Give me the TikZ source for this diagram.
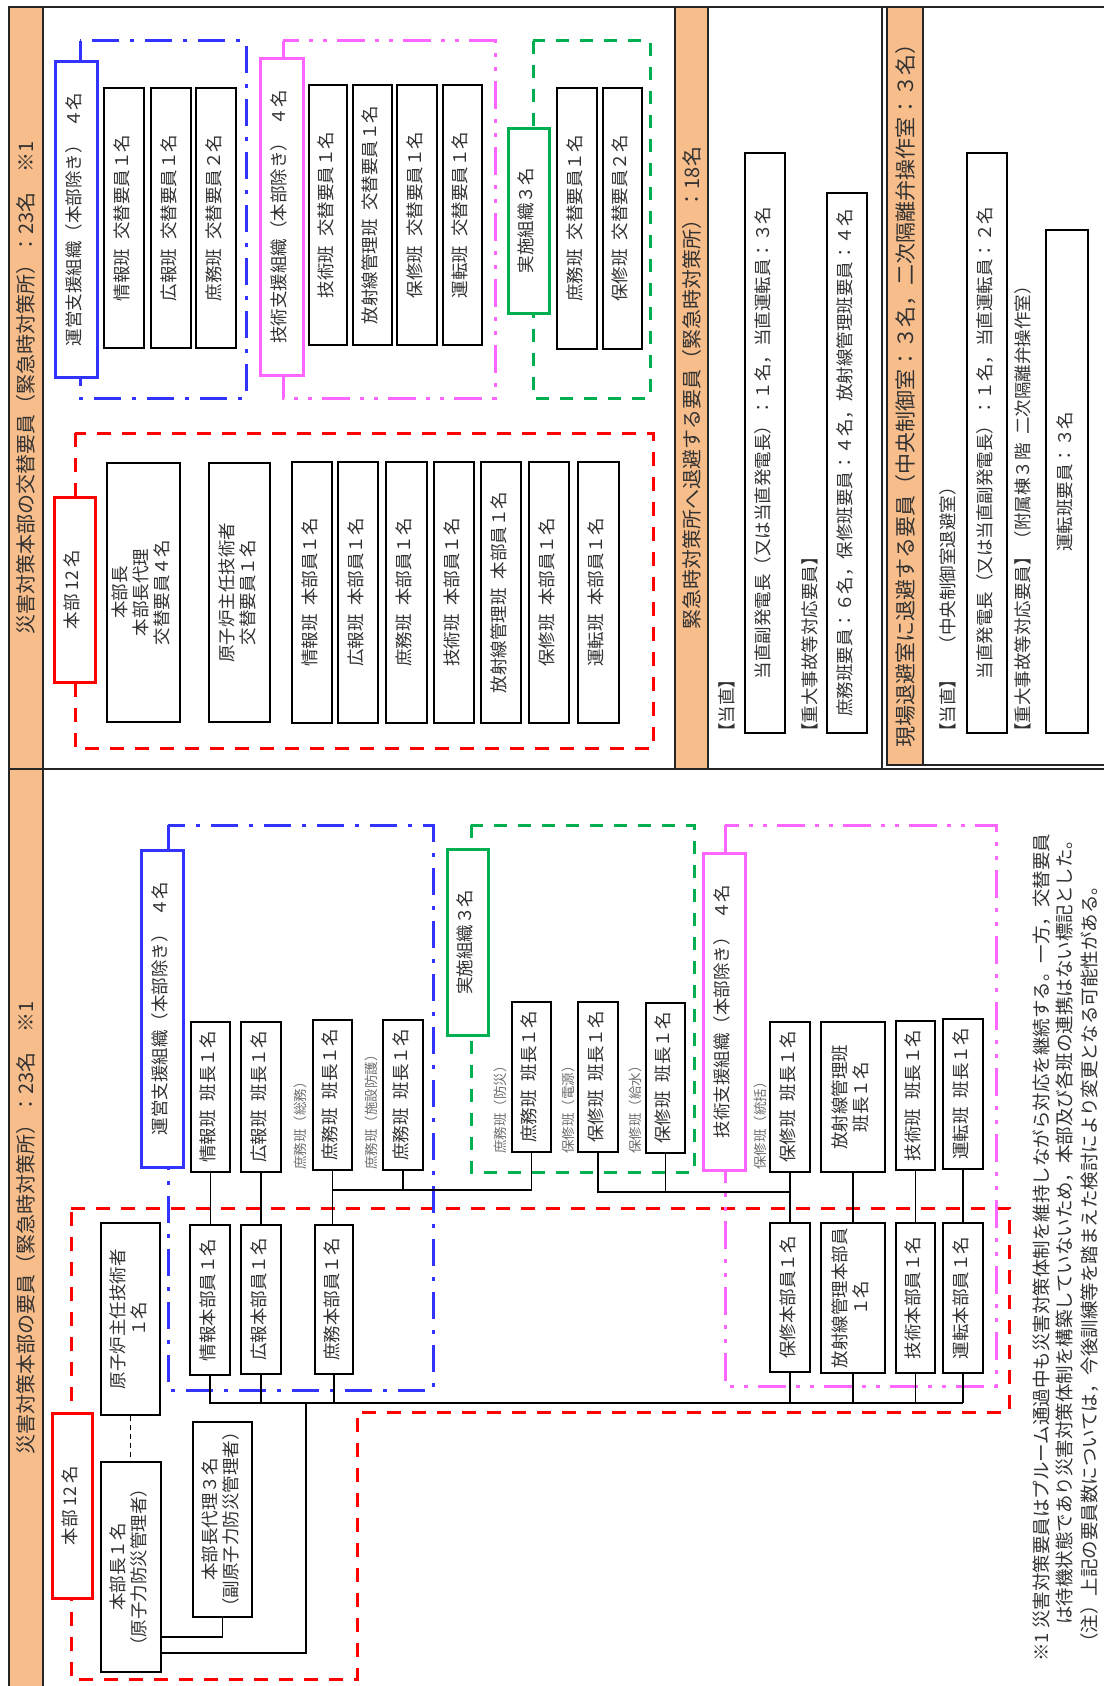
\documentclass[tikz,border=0pt]{standalone}
\usepackage{fontspec}
\setmainfont{Noto Sans CJK JP}
\usepackage{graphicx}
\definecolor{orng}{RGB}{247,189,139}
\definecolor{myred}{RGB}{255,0,0}
\definecolor{myblue}{RGB}{51,51,255}
\definecolor{mygreen}{RGB}{0,176,80}
\definecolor{mypink}{RGB}{255,102,255}
\definecolor{txt}{RGB}{50,50,50}
\definecolor{gtxt}{RGB}{110,110,110}
\newcommand{\fsbox}{\fontsize{17.5}{21}\selectfont}
\newcommand{\fshead}{\fontsize{20}{24}\selectfont}
\newcommand{\fsheadb}{\fontsize{21}{25}\selectfont}
\newcommand{\fslab}{\fontsize{13.5}{16}\selectfont}
\newcommand{\fsnote}{\fontsize{18.5}{22}\selectfont}
\newcommand{\gap}{\hspace{0.5em}}
\newcommand{\mybox}[7][]{%
  \node[blackbox,#1,minimum width={(#5)-(#3)},minimum height={(#6)-(#4)}] (#2)
    at ({((#3)+(#5))/2},{((#4)+(#6))/2})
    {\rotatebox{90}{\begin{tabular}{@{}c@{}}#7\end{tabular}}};}
\begin{document}
\begin{tikzpicture}[x=1pt,y=-1pt,
  blackbox/.style={draw=black,line width=1.8pt,fill=white,inner sep=1.5pt,text=txt,font=\fsbox},
  bluebox/.style={draw=myblue,line width=3pt},
  pinkbox/.style={draw=mypink,line width=3pt},
  greenbox/.style={draw=mygreen,line width=3pt},
  redbox/.style={draw=myred,line width=3pt},
  conn/.style={draw=black,line width=1.5pt},
  frameline/.style={draw=black!85,line width=1.4pt},
  lbl/.style={anchor=south,inner sep=0pt,font=\fsbox,text=txt},
  glbl/.style={anchor=south,inner sep=0pt,font=\fslab,text=gtxt},
  hdr/.style={inner sep=0pt,font=\fshead,text=txt},
  redframe/.style={draw=myred,line width=3pt,dash pattern=on 14pt off 11pt},
  greenframe/.style={draw=mygreen,line width=3pt,dash pattern=on 13pt off 11pt},
  blueframe/.style={draw=myblue,line width=3pt,dash pattern=on 27pt off 11pt on 4pt off 11pt},
  pinkframe/.style={draw=mypink,line width=3pt,dash pattern=on 28pt off 10pt on 4pt off 10pt on 4pt off 10pt}]
\useasboundingbox (0,0) rectangle (1104,1686);
\fill[white] (0,0) rectangle (1104,1686);

% ---------- frame and header strips ----------
\filldraw[fill=orng,frameline] (9,7) rectangle (43,769);
\filldraw[fill=orng,frameline] (9,769) rectangle (43,1690);
\filldraw[fill=orng,frameline] (675,7) rectangle (708,769);
\filldraw[fill=orng,frameline] (887,7) rectangle (923,765);
\draw[frameline] (9,7) -- (1104,7);
\draw[frameline] (43,769) -- (882,769);
\draw[frameline] (882,7) -- (882,769) -- (1104,769);
\draw[frameline] (887,7) -- (887,765) -- (1104,765);

\node[hdr] (h1) at (26,388) {\rotatebox{90}{災害対策本部の交替要員（緊急時対策所）：23名　※1}};
\node[hdr] (h2) at (26,1228) {\rotatebox{90}{災害対策本部の要員（緊急時対策所）：23名　※1}};
\node[hdr] (h3) at (691.5,388) {\rotatebox{90}{緊急時対策所へ退避する要員（緊急時対策所）：18名}};
\node[hdr,font=\fsheadb] (h4) at (906,390) {\rotatebox{90}{現場退避室に退避する要員（中央制御室：３名，二次隔離弁操作室：３名）}};

% ---------- top half: group frames ----------
\draw[blueframe] (80,41) rectangle (246,398);
\draw[pinkframe] (283,41) rectangle (495,398);
\draw[greenframe] (533,41) rectangle (650,398);
\draw[redframe] (75,433) rectangle (653,748);

\mybox[bluebox]{tbS}{55}{62}{97}{377}{運営支援組織（本部除き）\gap ４名}
\mybox{tb1}{104}{88}{144}{348}{情報班\gap 交替要員１名}
\mybox{tb2}{151}{88}{191}{348}{広報班\gap 交替要員１名}
\mybox{tb3}{196}{88}{236}{348}{庶務班\gap 交替要員２名}
\mybox[pinkbox]{tpS}{260}{59}{303}{375}{技術支援組織（本部除き）\gap ４名}
\mybox{tp1}{309}{85}{347}{345}{技術班\gap 交替要員１名}
\mybox{tp2}{353}{85}{392}{345}{放射線管理班\gap 交替要員１名}
\mybox{tp3}{397}{85}{437}{345}{保修班\gap 交替要員１名}
\mybox{tp4}{443}{85}{482}{345}{運転班\gap 交替要員１名}
\mybox[greenbox]{tgS}{508}{128}{549}{313}{実施組織３名}
\mybox{tg1}{557}{88}{597}{349}{庶務班\gap 交替要員１名}
\mybox{tg2}{603}{88}{642}{349}{保修班\gap 交替要員２名}
\mybox[redbox]{trS}{54}{497}{95}{682}{本部 12 名}
\mybox{tr1}{107}{463}{180}{722}{本部長\\本部長代理\\交替要員４名}
\mybox{tr2}{209}{463}{270}{722}{原子炉主任技術者\\交替要員１名}
\mybox{tr3}{292}{462}{332}{723}{情報班\gap 本部員１名}
\mybox{tr4}{338}{462}{378}{723}{広報班\gap 本部員１名}
\mybox{tr5}{386}{462}{427}{723}{庶務班\gap 本部員１名}
\mybox{tr6}{434}{462}{474}{723}{技術班\gap 本部員１名}
\mybox{tr7}{481}{462}{521}{723}{放射線管理班\gap 本部員１名}
\mybox{tr8}{529}{462}{569}{723}{保修班\gap 本部員１名}
\mybox{tr9}{578}{462}{619}{723}{運転班\gap 本部員１名}

% ---------- panel 2 ----------
\node[lbl] (t2a) at (727,741) {\rotatebox{90}{【当直】}};
\mybox{p2a}{745}{153}{785}{733}{当直副発電長（又は当直発電長）：１名，当直運転員：３名}
\node[lbl] (t2b) at (810,741) {\rotatebox{90}{【重大事故等対応要員】}};
\mybox{p2b}{827}{193}{867}{733}{庶務班要員：６名，保修班要員：４名，放射線管理班要員：４名}

% ---------- panel 3 ----------
\node[lbl] (t3a) at (948,741) {\rotatebox{90}{【当直】　（中央制御室退避室）}};
\mybox{p3a}{967}{153}{1007}{733}{当直発電長（又は当直副発電長）：１名，当直運転員：２名}
\node[lbl] (t3b) at (1023,741) {\rotatebox{90}{【重大事故等対応要員】（附属棟３階\gap 二次隔離弁操作室）}};
\mybox{p3b}{1046}{230}{1088}{733}{運転班要員：３名}

% ---------- bottom half: group frames ----------
\draw[redframe] (71,1208) -- (1009,1208) -- (1009,1412) -- (357,1412) -- (357,1679) -- (71,1679) -- cycle;
\draw[blueframe] (168,825) rectangle (433,1390);
\draw[greenframe] (471,825) rectangle (694,1172);
\draw[pinkframe] (725,825) rectangle (996,1386);

\mybox[bluebox]{bbS}{141}{850}{183}{1167}{運営支援組織（本部除き）\gap ４名}
\mybox[greenbox]{bgS}{447}{849}{488}{1035}{実施組織３名}
\mybox[pinkbox]{bpS}{703}{853}{745}{1170}{技術支援組織（本部除き）\gap ４名}
\mybox[redbox]{brS}{52}{1413}{92}{1598}{本部 12 名}
\mybox{gen}{101}{1223}{160}{1415}{原子炉主任技術者\\１名}
\mybox{hbc}{101}{1462}{161}{1672}{本部長１名\\（原子力防災管理者）}
\mybox{hbd}{193}{1424}{252}{1615}{本部長代理３名\\（副原子力防災管理者）}
\mybox{jl}{191}{1022}{230}{1172}{情報班\gap 班長１名}
\mybox{kl}{241}{1022}{281}{1172}{広報班\gap 班長１名}
\mybox{sl1}{313}{1020}{352}{1170}{庶務班\gap 班長１名}
\mybox{sl2}{383}{1020}{423}{1170}{庶務班\gap 班長１名}
\mybox{sl3}{512}{1002}{551}{1152}{庶務班\gap 班長１名}
\mybox{hl1}{578}{1002}{618}{1152}{保修班\gap 班長１名}
\mybox{hl2}{646}{1003}{685}{1153}{保修班\gap 班長１名}
\mybox{hl3}{770}{1022}{810}{1172}{保修班\gap 班長１名}
\mybox{rl}{821}{1022}{885}{1172}{放射線管理班\\班長１名}
\mybox{gl}{896}{1021}{935}{1170}{技術班\gap 班長１名}
\mybox{ul}{943}{1019}{983}{1169}{運転班\gap 班長１名}
\mybox{jh}{190}{1225}{230}{1375}{情報本部員１名}
\mybox{kh}{241}{1225}{281}{1374}{広報本部員１名}
\mybox{sh}{315}{1225}{353}{1374}{庶務本部員１名}
\mybox{hh}{770}{1223}{810}{1372}{保修本部員１名}
\mybox{rh}{821}{1223}{885}{1373}{放射線管理本部員\\１名}
\mybox{gh}{896}{1223}{935}{1373}{技術本部員１名}
\mybox{uh}{943}{1223}{983}{1373}{運転本部員１名}

% small labels
\node[glbl] (l1) at (300,1170) {\rotatebox{90}{庶務班（総務）}};
\node[glbl] (l2) at (371,1170) {\rotatebox{90}{庶務班（施設防護）}};
\node[glbl] (l3) at (500,1154) {\rotatebox{90}{庶務班（防災）}};
\node[glbl] (l4) at (568,1154) {\rotatebox{90}{保修班（電源）}};
\node[glbl] (l5) at (635,1154) {\rotatebox{90}{保修班（給水）}};
\node[glbl] (l6) at (760,1170) {\rotatebox{90}{保修班（統括）}};

% connectors
\draw[black,line width=1.2pt,dash pattern=on 5pt off 4pt] (gen.south) -- (gen.south |- hbc.north);
\draw[conn] (jl.south) -- (jl.south |- jh.north);
\draw[conn] (kl.south) -- (kl.south |- kh.north);
\draw[conn] (sl1.south) -- (sl1.south |- sh.north);
\coordinate (sbus) at (0,1190);
\draw[conn] (sl3.south) -- (sl3.south |- sbus) -- (sl1.south |- sbus);
\draw[conn] (sl2.south) -- (sl2.south |- sbus);
\coordinate (hbus) at (0,1192);
\draw[conn] (hl1.south) -- (hl1.south |- hbus) -- (hl3.south |- hbus);
\draw[conn] (hl2.south) -- (hl2.south |- hbus);
\draw[conn] (hl3.south) -- (hl3.south |- hh.north);
\draw[conn] (rl.south) -- (rl.south |- rh.north);
\draw[conn] (gl.south) -- (gl.south |- gh.north);
\draw[conn] (ul.south) -- (ul.south |- uh.north);
\coordinate (bus) at (0,1403);
\draw[conn] (jh.south) -- (jh.south |- bus) -- (uh.south |- bus);
\foreach \n in {kh,sh,hh,rh,gh,uh} \draw[conn] (\n.south) -- (\n.south |- bus);
\coordinate (busA) at (306,1403);
\draw[conn] ([yshift=20pt]hbc.south east) -| (busA);
\draw[conn] (hbd.south) |- ([yshift=36pt]hbc.south east);

% footnotes
\node[lbl,font=\fsnote] (fn1) at (1042,1662) {\rotatebox{90}{※1 災害対策要員はプルーム通過中も災害対策体制を維持しながら対応を継続する。一方，交替要員}};
\node[lbl,font=\fsnote] (fn2) at (1065,1625) {\rotatebox{90}{は待機状態であり災害対策体制を構築していないため，本部及び各班の連携はない標記とした。}};
\node[lbl,font=\fsnote] (fn3) at (1090,1652) {\rotatebox{90}{（注）上記の要員数については，今後訓練等を踏まえた検討により変更となる可能性がある。}};
\end{tikzpicture}
\end{document}
